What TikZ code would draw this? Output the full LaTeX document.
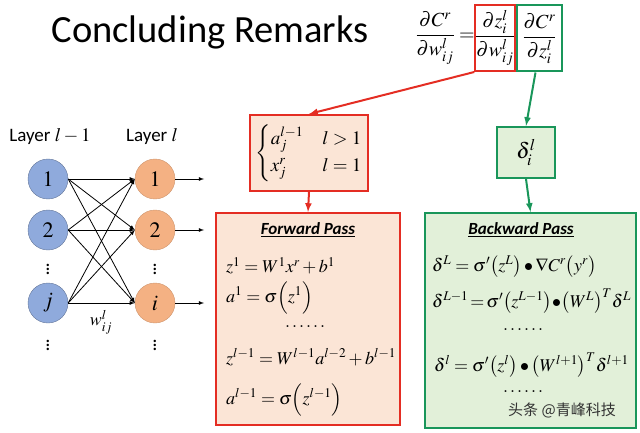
\documentclass[tikz,border=0pt]{standalone}
\usepackage{amsmath}
\usepackage{mathptmx}
\usepackage[no-math]{fontspec}
\setmainfont{Carlito}
\newfontfamily\cjk{Noto Sans CJK SC}
\usetikzlibrary{positioning, arrows.meta}
\definecolor{redline}{RGB}{228,45,35}
\definecolor{peach}{RGB}{251,229,214}
\definecolor{greenline}{RGB}{25,150,90}
\definecolor{palegreen}{RGB}{226,240,217}
\definecolor{blueneuron}{RGB}{143,170,220}
\definecolor{orangeneuron}{RGB}{244,177,131}
\tikzset{>=latex}
\tikzset{
    inneuron/.style = {circle, draw=blueneuron!70!black, fill=blueneuron, minimum size=40pt, inner sep=0pt, font=\fontsize{22}{22}\selectfont},
    outneuron/.style = {circle, draw=orangeneuron!85!black, fill=orangeneuron, minimum size=40pt, inner sep=0pt, font=\fontsize{22}{22}\selectfont},
    redbox/.style = {rectangle, draw=redline, line width=2pt, inner sep=0pt},
    greenbox/.style = {rectangle, draw=greenline, line width=2pt, inner sep=0pt},
    eqn/.style = {anchor=west, inner sep=0pt, font=\fontsize{18}{20}\selectfont},
    passtitle/.style = {inner sep=0pt, font=\fontsize{17}{18}\selectfont\bfseries\itshape},
    vdotsnode/.style = {inner sep=0pt, font=\fontsize{20}{20}\selectfont}
}

\begin{document}
\begin{tikzpicture}[x=1pt,y=-1pt]
			\useasboundingbox (0,0) rectangle (640,433);
			\node (title) [font=\fontsize{38.5}{42}\selectfont] at (210,32) {Concluding Remarks};
			% chain rule at the top
			\node (lhs) [font=\fontsize{20}{22}\selectfont, inner sep=0pt] at (445,38) {$\dfrac{\partial C^{r}}{\partial w_{ij}^{l}}=$};
			\node (dzdw) [redbox, minimum width=38pt, minimum height=66pt, font=\fontsize{20}{22}\selectfont] at (495,38) {$\dfrac{\partial z_{i}^{l}}{\partial w_{ij}^{l}}$};
			\node (dcdz) [greenbox, minimum width=45pt, minimum height=66pt, font=\fontsize{20}{22}\selectfont] at (539.5,38.5) {$\dfrac{\partial C^{r}}{\partial z_{i}^{l}}$};
			% boxes
			\node (cases) [redbox, fill=peach, minimum width=118pt, minimum height=76pt, font=\fontsize{19}{21}\selectfont] at (309,153) {$\begin{cases} a_{j}^{l-1} & l>1\\[2pt] x_{j}^{r} & l=1\end{cases}$};
			\node (delta) [greenbox, fill=palegreen, minimum width=58pt, minimum height=51pt, font=\fontsize{22}{24}\selectfont] at (526,152.5) {$\delta_{i}^{l}$};
			\node (fwd) [redbox, fill=peach, minimum width=184pt, minimum height=212pt] at (308,319) {};
			\node (bwd) [greenbox, fill=palegreen, minimum width=211pt, minimum height=215pt] at (530.5,320.5) {};
			\draw [->, redline, line width=2pt] (dzdw.south west) to (cases.north);
			\draw [->, greenline, line width=2pt] ([xshift=-4pt]dcdz.south) to (delta.north);
			\draw [->, redline, line width=2pt] (cases.south) to (fwd.north);
			\draw [->, greenline, line width=2pt] (delta.south) to (bwd.north);
			% forward pass
			\node (ftitle) [passtitle] at (308,230) {\underline{Forward Pass}};
			\node (f1) [eqn] at (226,266) {$z^{1}=W^{1}x^{r}+b^{1}$};
			\node (f2) [eqn] at (226,298) {$a^{1}=\sigma\Bigl(z^{1}\Bigr)$};
			\node (f3) [eqn] at (285,327) {$\ldots\ldots$};
			\node (f4) [eqn] at (226,357) {$z^{l-1}=W^{l-1}a^{l-2}+b^{l-1}$};
			\node (f5) [eqn] at (226,400) {$a^{l-1}=\sigma\Bigl(z^{l-1}\Bigr)$};
			% backward pass
			\node (btitle) [passtitle] at (521,230) {\underline{Backward Pass}};
			\node (b1) [eqn] at (432,267) {$\delta^{L}=\sigma'\bigl(z^{L}\bigr)\bullet\nabla C^{r}\bigl(y^{r}\bigr)$};
			\node (b2) [eqn] at (432,301) {$\delta^{L-1}\!=\!\sigma'\bigl(z^{L-1}\bigr)\!\bullet\!\bigl(W^{L}\bigr)^{T}\delta^{L}$};
			\node (b3) [eqn] at (503,330) {$\ldots\ldots$};
			\node (b4) [eqn] at (434,365) {$\delta^{l}=\sigma'\bigl(z^{l}\bigr)\bullet\bigl(W^{l+1}\bigr)^{T}\delta^{l+1}$};
			\node (b5) [eqn] at (503,392) {$\ldots\ldots$};
			\node (mark) [font=\cjk\fontsize{15}{16}\selectfont, text=black!80] at (562,410) {头条 @青峰科技};
			% network
			\node (lprev) [font=\fontsize{19}{20}\selectfont] at (50,136) {Layer $l-1$};
			\node (lcur) [font=\fontsize{19}{20}\selectfont] at (152,136) {Layer $l$};
			\node (x1) [inneuron] at (48,179) {$1$};
			\node (x2) [inneuron] at (48,230) {$2$};
			\node (xj) [inneuron] at (48,303) {$j$};
			\node (y1) [outneuron] at (155,179) {$1$};
			\node (y2) [outneuron] at (155,230) {$2$};
			\node (yi) [outneuron] at (155,303) {$i$};
			\node (xd1) [vdotsnode] at (48,266) {$\vdots$};
			\node (xd2) [vdotsnode] at (48,342) {$\vdots$};
			\node (yd1) [vdotsnode] at (155,266) {$\vdots$};
			\node (yd2) [vdotsnode] at (155,342) {$\vdots$};
			\foreach \a in {x1,x2,xj}
				\foreach \b in {y1,y2,yi}
					\draw [->, thick] (\a.east) to (\b.west);
			\coordinate (o1) at (204,179);
			\coordinate (o2) at (204,230);
			\coordinate (oi) at (204,303);
			\draw [->, thick] (y1) to (o1);
			\draw [->, thick] (y2) to (o2);
			\draw [->, thick] (yi) to (oi);
			\node (w) [font=\fontsize{18}{18}\selectfont] at (101,322) {$w_{ij}^{l}$};
		\end{tikzpicture}
\end{document}
